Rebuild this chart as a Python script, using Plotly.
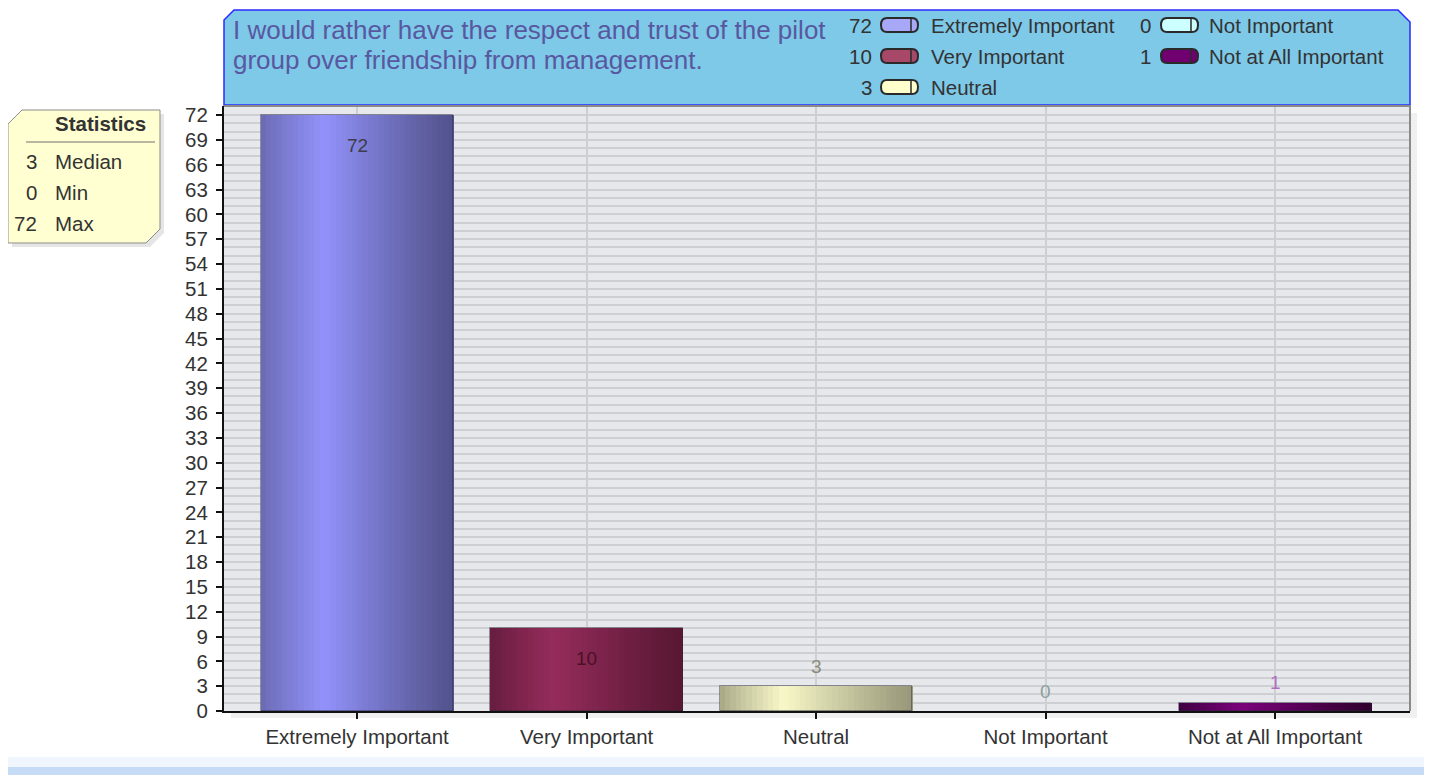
import numpy as np
import plotly.graph_objects as go

# ---------------- data ----------------
categories = ["Extremely Important", "Very Important", "Neutral", "Not Important", "Not at All Important"]
counts = [72, 10, 3, 0, 1]
y_tick_values = list(range(0, 73, 3))
title_lines = ["I would rather have the respect and trust of the pilot",
               "group over friendship from management."]
stat_names = ["Median", "Min", "Max"]

# ---------------- styles ----------------
FONT = "Liberation Sans, Arial, sans-serif"
grad = [("#6a6ab2", "#9292fb", "#52528c"),
        ("#661c3e", "#952c5b", "#581733"),
        ("#a6a686", "#f8f8c8", "#98987a"),
        ("#a0e0e0", "#d0ffff", "#90d0d0"),
        ("#3c003f", "#7c007c", "#30002e")]
swatch_colors = ["#a8a8f8", "#a84868", "#ffffcc", "#ccffff", "#700070"]
label_colors = ["#3c3c4c", "#4a1028", "#8a8a7a", "#8aa0a0", "#b070c0"]
TXT = "#333333"
FS = 20.5

# page body has an 8px margin: figure placed at (8, 8)
OFF = 8
W, H = 1432 - OFF, 775 - OFF
L, R, T, B = 224 - OFF, 22, 106 - OFF, 64
PW = W - L - R
PH = H - T - B


def px(x):
    return (x - 224) / PW


def py(y):
    return (711 - y) / PH


def hex2rgb(h):
    h = h.lstrip("#")
    return np.array([int(h[i:i + 2], 16) for i in (0, 2, 4)], dtype=float)


def mix(a, b, f):
    c = hex2rgb(a) * (1 - f) + hex2rgb(b) * f
    return "rgb(%d,%d,%d)" % tuple(np.round(c).astype(int))


fig = go.Figure()

# gradient bars built from slices
BW = 0.84
N = 36
PEAK = 0.33
for i in range(N):
    t = (i + 0.5) / N
    if t < PEAK:
        f = (t / PEAK) ** 0.9
        cols = [mix(g[0], g[1], f) for g in grad]
    else:
        f = ((1 - t) / (1 - PEAK)) ** 1.1
        cols = [mix(g[2], g[1], f) for g in grad]
    fig.add_trace(go.Bar(
        x=categories, y=counts, width=BW / N * 1.08, offset=-BW / 2 + i * BW / N,
        marker=dict(color=cols, line=dict(width=0)),
        hoverinfo="skip", showlegend=False))

# outline
fig.add_trace(go.Bar(
    x=categories, y=counts, width=BW, offset=-BW / 2,
    marker=dict(color="rgba(0,0,0,0)",
                line=dict(color=["rgba(40,40,60,0.45)" if v > 0 else "rgba(0,0,0,0)" for v in counts],
                          width=1)),
    hoverinfo="skip", showlegend=False))

annotations = []
# value labels
for c, v, col in zip(categories, counts, label_colors):
    inside = v >= 10
    annotations.append(dict(
        x=c, y=v, xref="x", yref="y", text=str(v), showarrow=False,
        yanchor="middle", yshift=-30 if inside else 20,
        font=dict(family=FONT, size=19, color=col)))

shapes = []
# page decoration strips
shapes.append(dict(type="rect", xref="paper", yref="paper", x0=px(1424), x1=px(1440), y0=py(780), y1=py(0),
                   fillcolor="#f1f6fe", line=dict(width=0), layer="below"))
shapes.append(dict(type="rect", xref="paper", yref="paper", x0=px(0), x1=px(1440), y0=py(767), y1=py(757),
                   fillcolor="#f1f6fe", line=dict(width=0), layer="below"))
shapes.append(dict(type="rect", xref="paper", yref="paper", x0=px(0), x1=px(1440), y0=py(780), y1=py(767),
                   fillcolor="#c6dbf6", line=dict(width=0), layer="below"))

# plot shadow
shapes.append(dict(type="rect", xref="paper", yref="paper", x0=px(1410), x1=px(1417), y0=py(718), y1=py(113),
                   fillcolor="rgba(0,0,0,0.06)", line=dict(width=0), layer="below"))
shapes.append(dict(type="rect", xref="paper", yref="paper", x0=px(231), x1=px(1410), y0=py(718), y1=py(711),
                   fillcolor="rgba(0,0,0,0.06)", line=dict(width=0), layer="below"))

# plot border (top & right grey)
shapes.append(dict(type="path", xref="paper", yref="paper",
                   path="M %f,%f L %f,%f L %f,%f" % (px(224), py(106), px(1410), py(106), px(1410), py(711)),
                   line=dict(color="#8a8a8a", width=2), layer="above"))


def path_from(points):
    return "M " + " L ".join("%f,%f" % (px(a), py(b)) for a, b in points) + " Z"


# title box
shapes.append(dict(type="path", xref="paper", yref="paper",
                   path=path_from([(224, 105), (224, 20), (234, 10), (1398, 10), (1410, 22), (1410, 105)]),
                   fillcolor="#7ec8e8", line=dict(color="#2a2aff", width=1.5), layer="below"))

for k, line in enumerate(title_lines):
    annotations.append(dict(
        x=px(231), y=py(30 + 30 * k), xref="paper", yref="paper", xanchor="left", yanchor="middle",
        text=line, showarrow=False, align="left",
        font=dict(family=FONT, size=26, color="#5858a0")))

# legend (custom)
col_val_x = [874, 1153]
col_sw_x = [881, 1161]
col_lab_x = [929, 1207]
positions = [(0, 0), (0, 1), (0, 2), (1, 0), (1, 1)]
for (ci, ri), cat, v, sc in zip(positions, categories, counts, swatch_colors):
    yc = 25 + 31 * ri
    annotations.append(dict(x=px(col_val_x[ci]), y=py(yc), xref="paper", yref="paper",
                            xanchor="right", yanchor="middle", text=str(v), showarrow=False,
                            font=dict(family=FONT, size=FS, color=TXT)))
    annotations.append(dict(x=px(col_lab_x[ci]), y=py(yc), xref="paper", yref="paper",
                            xanchor="left", yanchor="middle", text=cat, showarrow=False,
                            font=dict(family=FONT, size=FS, color=TXT)))
    x0 = col_sw_x[ci]
    x1 = x0 + 37
    h = 7
    r = 6
    p = ("M %f,%f L %f,%f Q %f,%f %f,%f Q %f,%f %f,%f L %f,%f Q %f,%f %f,%f Q %f,%f %f,%f Z" % (
        px(x0 + r), py(yc - h), px(x1 - r), py(yc - h),
        px(x1), py(yc - h), px(x1), py(yc),
        px(x1), py(yc + h), px(x1 - r), py(yc + h),
        px(x0 + r), py(yc + h),
        px(x0), py(yc + h), px(x0), py(yc),
        px(x0), py(yc - h), px(x0 + r), py(yc - h)))
    shapes.append(dict(type="path", xref="paper", yref="paper", path=p,
                       fillcolor=sc, line=dict(color="#2a2a2a", width=2), layer="above"))
    shapes.append(dict(type="line", xref="paper", yref="paper",
                       x0=px(x1 - 7), x1=px(x1 - 7), y0=py(yc - h + 1), y1=py(yc + h - 1),
                       line=dict(color="#2a2a2a", width=1.5), layer="above"))

# statistics box
vals = np.array(counts)
stat_vals = [int(np.median(vals)), int(vals.min()), int(vals.max())]
shapes.append(dict(type="path", xref="paper", yref="paper",
                   path=path_from([(12, 128), (26, 114), (164, 114), (164, 233), (150, 247), (12, 247)]),
                   fillcolor="rgba(0,0,0,0.10)", line=dict(width=0), layer="below"))
shapes.append(dict(type="path", xref="paper", yref="paper",
                   path=path_from([(8, 124), (22, 110), (160, 110), (160, 229), (146, 243), (8, 243)]),
                   fillcolor="#ffffd2", line=dict(color="#8c8c8c", width=1), layer="below"))
shapes.append(dict(type="line", xref="paper", yref="paper", x0=px(26), x1=px(155), y0=py(142), y1=py(142),
                   line=dict(color="#b8b8a0", width=2), layer="below"))
annotations.append(dict(x=px(100), y=py(123), xref="paper", yref="paper", xanchor="center", yanchor="middle",
                        text="<b>Statistics</b>", showarrow=False,
                        font=dict(family=FONT, size=FS, color=TXT)))
for k, (nm, sv) in enumerate(zip(stat_names, stat_vals)):
    yc = 161 + 31 * k
    annotations.append(dict(x=px(39), y=py(yc), xref="paper", yref="paper", xanchor="right", yanchor="middle",
                            text=str(sv), showarrow=False, font=dict(family=FONT, size=FS, color=TXT)))
    annotations.append(dict(x=px(53), y=py(yc), xref="paper", yref="paper", xanchor="left", yanchor="middle",
                            text=nm, showarrow=False, font=dict(family=FONT, size=FS, color=TXT)))

fig.update_layout(
    width=W, height=H,
    margin=dict(l=L, r=R, t=T, b=B, pad=0),
    paper_bgcolor="#ffffff", plot_bgcolor="#e6e8eb",
    barmode="overlay", bargap=0,
    showlegend=False,
    shapes=shapes, annotations=annotations,
    font=dict(family=FONT, size=FS, color=TXT),
    xaxis=dict(type="category", categoryorder="array", categoryarray=categories,
               range=[-0.58, len(categories) - 1 + 0.588],
               showgrid=True, gridcolor="#cdcfd2", gridwidth=1.5,
               showline=True, linecolor="#111111", linewidth=2,
               ticks="outside", ticklen=6, tickcolor="#111111", tickwidth=2,
               tickfont=dict(family=FONT, size=FS, color=TXT), fixedrange=True),
    yaxis=dict(range=[0, 73.09], tickvals=y_tick_values,
               showgrid=True, gridcolor="#cdcfd2", gridwidth=2,
               minor=dict(dtick=1, showgrid=True, gridcolor="#cdcfd2", gridwidth=2, ticks=""),
               zeroline=False,
               showline=True, linecolor="#111111", linewidth=2,
               ticks="outside", ticklen=6, tickcolor="#111111", tickwidth=2,
               ticklabelstandoff=4,
               tickfont=dict(family=FONT, size=FS, color=TXT), fixedrange=True),
)

fig.write_html("out.html", config={"displayModeBar": False})
